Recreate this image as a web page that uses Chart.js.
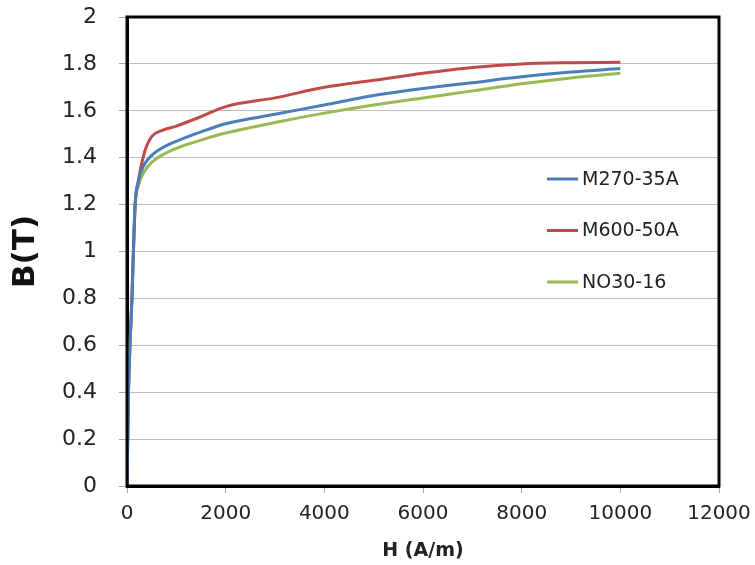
<!DOCTYPE html>
<html>
<head>
<meta charset="utf-8">
<script src="https://cdn.jsdelivr.net/npm/chart.js@4/dist/chart.umd.min.js"></script>
<style>
  html, body { margin: 0; padding: 0; background: #fff; }
  #wrap { width: 755px; height: 565px; }
</style>
</head>
<body>
<div id="wrap"><canvas id="bhChart" width="755" height="565"></canvas></div>
<script>
// field strength samples (A/m), shared by all three curves
var hValues = [0, 30, 60, 100, 130, 165, 230, 350, 500, 700, 1000, 1500, 2000, 3000, 4000, 5000, 6000, 7000, 8000, 9000, 10000];

// flux density (T)
var bM270 = [0, 0.4, 0.6, 0.8, 1.0, 1.2, 1.3, 1.37, 1.41, 1.44, 1.47, 1.51, 1.545, 1.585, 1.625, 1.665, 1.695, 1.72, 1.745, 1.765, 1.78];
var bM600 = [0, 0.4, 0.6, 0.8, 1.0, 1.2, 1.3, 1.42, 1.49, 1.515, 1.535, 1.575, 1.618, 1.655, 1.70, 1.73, 1.76, 1.785, 1.80, 1.805, 1.807];
var bNO30 = [0, 0.4, 0.6, 0.8, 1.0, 1.2, 1.28, 1.34, 1.38, 1.41, 1.44, 1.475, 1.505, 1.55, 1.59, 1.625, 1.655, 1.685, 1.715, 1.74, 1.76];

var seriesNames = ['M270-35A', 'M600-50A', 'NO30-16'];
var seriesColors = ['#4A7EBB', '#BE4B48', '#98B954'];

var xTickLabels = ['0', '2000', '4000', '6000', '8000', '10000', '12000'];
var yTickLabels = ['0', '0.2', '0.4', '0.6', '0.8', '1', '1.2', '1.4', '1.6', '1.8', '2'];

var FONT = '"DejaVu Sans", sans-serif';

function toPoints(xs, ys) {
    var pts = [];
    for (var i = 0; i < xs.length; i++) {
        pts.push({ x: xs[i], y: ys[i] });
    }
    return pts;
}

// legend sits inside the plot, to the right, like the original
var insideLegend = {
    id: 'insideLegend',
    afterDraw: function (chart) {
        var ctx = chart.ctx;
        var area = chart.chartArea;
        var x0 = area.right - 172;
        var y0 = area.top + 162;
        ctx.save();
        chart.data.datasets.forEach(function (ds, i) {
            var y = y0 + i * 51.5;
            ctx.strokeStyle = ds.borderColor;
            ctx.lineWidth = 3;
            ctx.beginPath();
            ctx.moveTo(x0, y);
            ctx.lineTo(x0 + 31, y);
            ctx.stroke();
            ctx.fillStyle = '#222';
            ctx.font = '19px ' + FONT;
            ctx.textBaseline = 'middle';
            ctx.textAlign = 'left';
            ctx.fillText(ds.label, x0 + 35, y + 1);
        });
        ctx.restore();
    }
};

// black frame round the plot area
var plotFrame = {
    id: 'plotFrame',
    afterDatasetsDraw: function (chart) {
        var a = chart.chartArea;
        var ctx = chart.ctx;
        ctx.save();
        ctx.strokeStyle = '#000';
        ctx.lineWidth = 3;
        ctx.strokeRect(a.left, a.top, a.right - a.left, a.bottom - a.top);
        ctx.restore();
    }
};

var datasets = [bM270, bM600, bNO30].map(function (vals, i) {
    return {
        label: seriesNames[i],
        data: toPoints(hValues, vals),
        borderColor: seriesColors[i],
        backgroundColor: seriesColors[i],
        borderWidth: 3,
        pointRadius: 0,
        cubicInterpolationMode: 'monotone',
        fill: false
    };
});

var ctx = document.getElementById('bhChart').getContext('2d');
var bhChart = new Chart(ctx, {
    type: 'line',
    data: { datasets: datasets },
    plugins: [plotFrame, insideLegend],
    options: {
        responsive: false,
        animation: false,
        layout: { padding: 0 },
        plugins: {
            legend: { display: false },
            tooltip: { enabled: false }
        },
        scales: {
            x: {
                type: 'linear',
                min: 0,
                max: 12000,
                ticks: {
                    stepSize: 2000,
                    padding: 9,
                    color: '#222',
                    font: { family: FONT, size: 20 },
                    callback: function (v, i) { return xTickLabels[i]; }
                },
                grid: {
                    drawOnChartArea: false,
                    drawTicks: true,
                    tickLength: 7,
                    tickColor: '#A6A6A6'
                },
                border: { color: '#000', width: 3 },
                title: {
                    display: true,
                    text: 'H (A/m)',
                    color: '#222',
                    font: { family: FONT, size: 19, weight: 'bold' },
                    padding: { top: 4, bottom: 3 }
                },
                afterFit: function (scale) {
                    scale.height = 79;
                    scale.paddingRight = 36;
                }
            },
            y: {
                min: 0,
                max: 2,
                ticks: {
                    stepSize: 0.2,
                    padding: 22,
                    color: '#222',
                    font: { family: FONT, size: 22 },
                    callback: function (v, i) { return yTickLabels[i]; }
                },
                grid: {
                    color: '#BDBDBD',
                    lineWidth: 1,
                    drawTicks: true,
                    tickLength: 8,
                    tickColor: '#A6A6A6'
                },
                border: { color: '#000', width: 3 },
                title: {
                    display: true,
                    text: 'B(T)',
                    color: '#111',
                    font: { family: FONT, size: 31, weight: 'bold' },
                    padding: { top: 7, bottom: 0 }
                },
                afterFit: function (scale) {
                    scale.width = 127;
                    scale.paddingTop = 17;
                    scale.paddingBottom = 13;
                }
            }
        }
    }
});
</script>
</body>
</html>
